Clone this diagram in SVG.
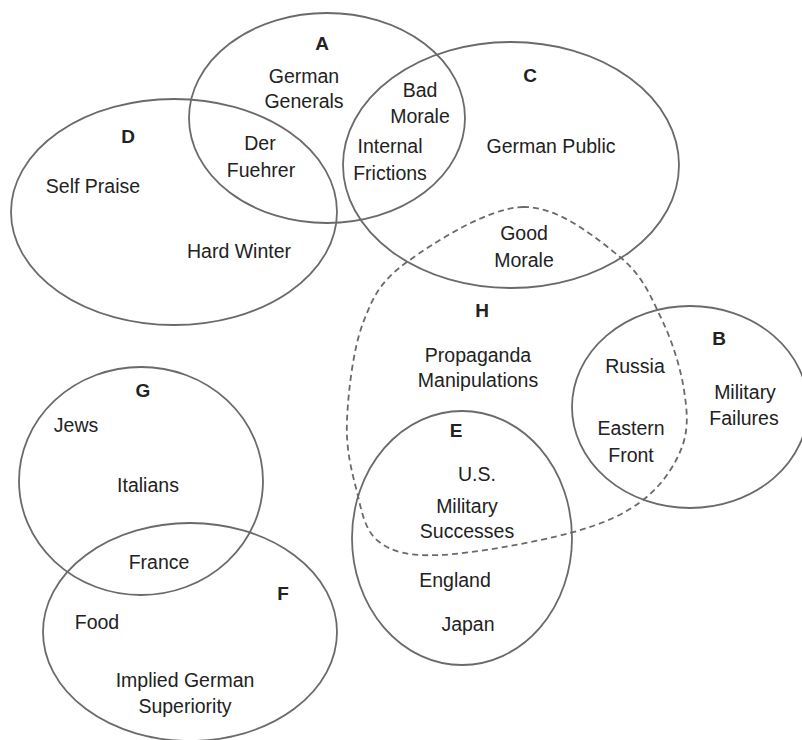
<svg xmlns="http://www.w3.org/2000/svg" width="802" height="740" viewBox="0 0 802 740">
<style>
.set{fill:none;stroke:#6a6a6a;stroke-width:1.8}
.dash{stroke-dasharray:6 4}
text{font-family:"Liberation Sans",Arial,sans-serif;font-size:19.5px;fill:#222;text-anchor:middle}
.lbl{font-weight:bold;font-size:19px}
</style>
<rect width="802" height="740" fill="#fff"/>
<g id="A">
<ellipse class="set" cx="327" cy="118" rx="138" ry="105"/>
<text class="lbl" x="322" y="50">A</text>
<text x="304" y="83">German</text>
<text x="304" y="108">Generals</text>
<text x="260" y="150">Der</text>
<text x="261" y="177">Fuehrer</text>
</g>
<g id="C">
<ellipse class="set" cx="511" cy="165" rx="168" ry="123"/>
<text class="lbl" x="530" y="82">C</text>
<text x="420" y="97">Bad</text>
<text x="420" y="123">Morale</text>
<text x="390" y="153">Internal</text>
<text x="390" y="180">Frictions</text>
<text x="551" y="153">German Public</text>
<text x="524" y="240">Good</text>
<text x="524" y="267">Morale</text>
</g>
<g id="D">
<ellipse class="set" cx="174" cy="212" rx="163" ry="113"/>
<text class="lbl" x="128" y="143">D</text>
<text x="93" y="193">Self Praise</text>
<text x="239" y="258">Hard Winter</text>
</g>
<g id="H">
<path class="set dash" d="M523,207 C558.5,206.2 596.8,238.2 620,257 C643.2,275.8 651.3,297.8 662,320 C672.7,342.2 680.7,368.8 684,390 C687.3,411.2 688.8,428.7 682,447 C675.2,465.3 661.7,485.7 643,500 C624.3,514.3 603.8,523.8 570,533 C536.2,542.2 472,553.7 440,555 C408,556.3 392,552.2 378,541 C364,529.8 361.2,508.2 356,488 C350.8,467.8 345.8,447.5 347,420 C348.2,392.5 353,349.3 363,323 C373,296.7 380.3,281.3 407,262 C433.7,242.7 487.5,207.8 523,207 Z"/>
<text class="lbl" x="482" y="317">H</text>
<text x="478" y="362">Propaganda</text>
<text x="478" y="387">Manipulations</text>
</g>
<g id="B">
<ellipse class="set" cx="690" cy="407" rx="118" ry="101"/>
<text class="lbl" x="719" y="345">B</text>
<text x="635" y="373">Russia</text>
<text x="745" y="399">Military</text>
<text x="744" y="425">Failures</text>
<text x="631" y="435">Eastern</text>
<text x="631" y="462">Front</text>
</g>
<g id="E">
<ellipse class="set" cx="462" cy="538" rx="110" ry="127"/>
<text class="lbl" x="456" y="437">E</text>
<text x="477" y="481">U.S.</text>
<text x="467" y="513">Military</text>
<text x="467" y="538">Successes</text>
<text x="455" y="587">England</text>
<text x="468" y="631">Japan</text>
</g>
<g id="G">
<ellipse class="set" cx="141" cy="481" rx="122" ry="114"/>
<text class="lbl" x="143" y="397">G</text>
<text x="76" y="432">Jews</text>
<text x="148" y="492">Italians</text>
<text x="159" y="569">France</text>
</g>
<g id="F">
<ellipse class="set" cx="190" cy="632" rx="147" ry="109"/>
<text class="lbl" x="283" y="600">F</text>
<text x="97" y="629">Food</text>
<text x="185" y="687">Implied German</text>
<text x="185" y="713">Superiority</text>
</g>
<g id="connectors"/>
</svg>
